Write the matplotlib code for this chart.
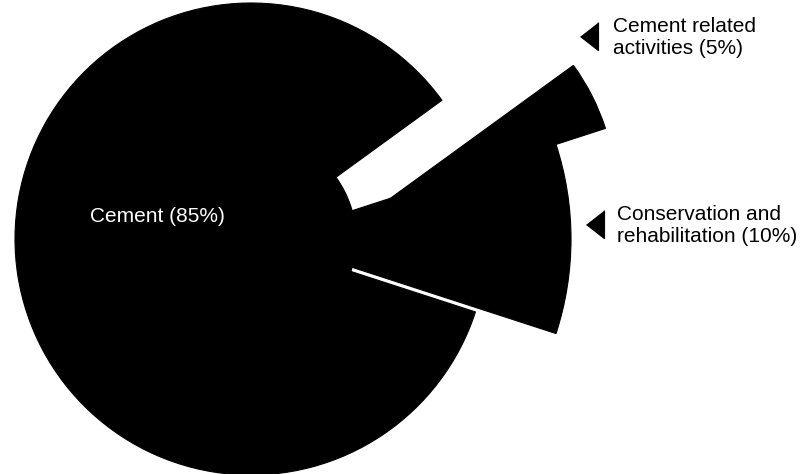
import numpy as np
import matplotlib.pyplot as plt

# shares of the three activities (percent)
labels = ['Cement', 'Conservation and\nrehabilitation', 'Cement related\nactivities']
shares = [85, 10, 5]

plt.rcParams['font.family'] = ['Liberation Sans', 'DejaVu Sans']

cx, cy = 251, 235
radius = 236
radii = [236, 306, 226]        # the pulled-out slices look bigger in the scan
wp = dict(linewidth=0.8, edgecolor='black')

fig = plt.figure(figsize=(8.04, 4.74), dpi=100)
ax = fig.add_axes([0, 0, 1, 1])

# solid body under the slices (the scan shows no gap near the centre)
ax.pie(shares, startangle=36, colors=['black'] * 3, center=(cx, cy),
       radius=105, wedgeprops=wp, frame=True)

wedges, _ = ax.pie(shares, explode=[0, 14, 0], startangle=36, counterclock=True,
                   colors=['black'] * 3, center=(cx, cy), radius=radius,
                   wedgeprops=wp, frame=True)
for w, r in zip(wedges, radii):
    w.set_radius(r)

# the small slice is pushed out along the edge it shares with the 10% slice
ang = np.deg2rad(wedges[2].theta1)
x0, y0 = wedges[1].center
wedges[2].set_center((x0 + 132 * np.cos(ang), y0 + 132 * np.sin(ang)))

ax.set_xlim(0, 804)
ax.set_ylim(0, 474)
ax.set_aspect('equal')
ax.axis('off')

# label inside the big slice
ax.text(90, 252, f'{labels[0]} ({shares[0]}%)', color='white', fontsize=15,
        ha='left', va='baseline')

# outside labels with pointer triangles
tri = [(-0.64, 0), (0.64, -1), (0.64, 1)]
ax.plot([589], [474 - 36], marker=tri, markersize=20, color='black', linestyle='none')
ax.text(613, 474 - 37, f'{labels[2]} ({shares[2]}%)', fontsize=15,
        ha='left', va='center', linespacing=1.2)

ax.plot([595], [474 - 224], marker=tri, markersize=20, color='black', linestyle='none')
ax.text(617, 474 - 225, f'{labels[1]} ({shares[1]}%)', fontsize=15,
        ha='left', va='center', linespacing=1.2)

fig.savefig('out.png', dpi=100)
